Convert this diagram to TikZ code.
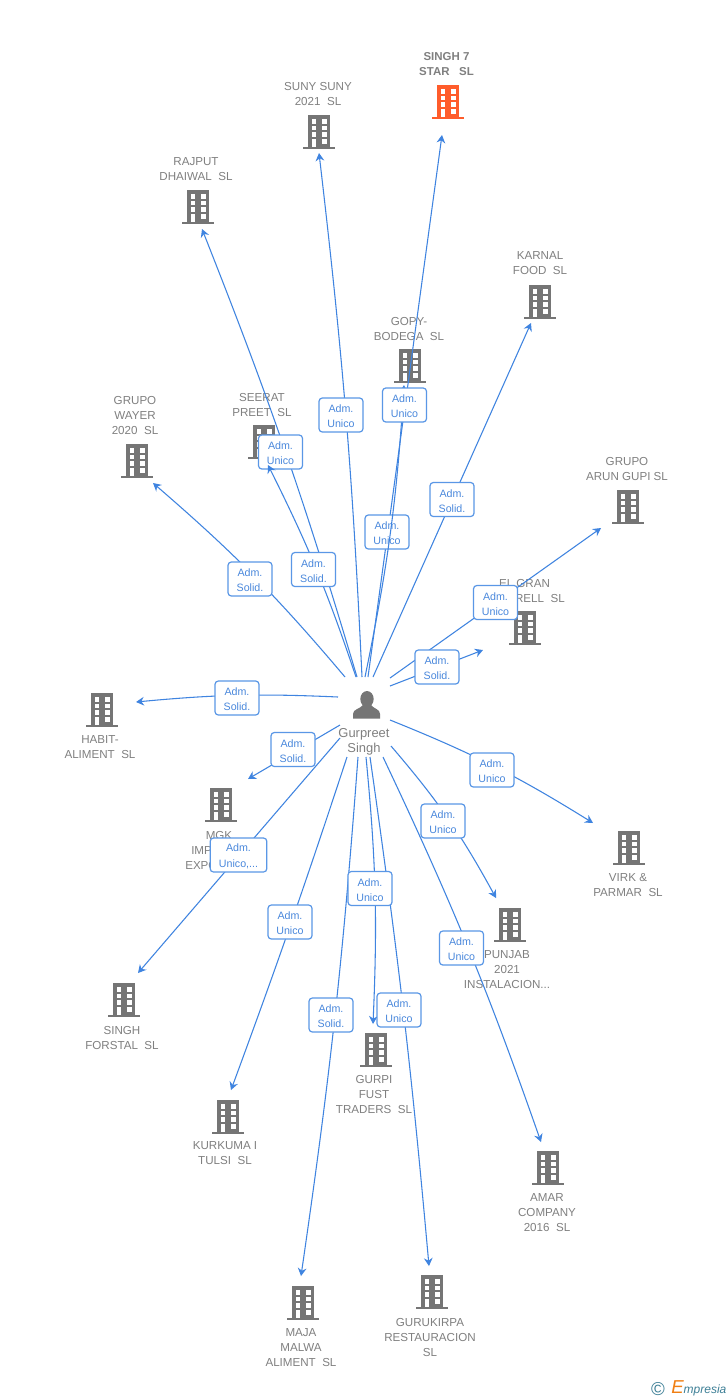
\documentclass[tikz,border=0pt]{standalone}
\usepackage{fontspec}
\setmainfont{Liberation Sans}
\usetikzlibrary{arrows.meta}
\definecolor{bgray}{HTML}{757575}
\definecolor{lgray}{HTML}{808080}
\definecolor{lnk}{HTML}{3F84E0}
\definecolor{bord}{HTML}{5A97E6}
\definecolor{btxt}{HTML}{4A88DC}
\definecolor{hot}{HTML}{FF5C2B}
\definecolor{teal}{HTML}{3D7F96}
\definecolor{ora}{HTML}{F07F13}
\newcommand{\bld}[4]{%
 \begin{scope}[shift={(#2,#3)}]
  \coordinate (#1) at (0,17);
  \fill[#4] (-11,0) rectangle (11,32);
  \fill[#4] (-16,32) rectangle (16,34);
  \foreach \wy in {4,10.7,17.4,24}{
   \fill[white] (-7.5,\wy) rectangle (-3,\wy+4.5);
   \fill[white] (2.5,\wy) rectangle (7.5,\wy+4.5);}
  \fill[white] (-7.5,24) rectangle (-3,32);
 \end{scope}}
\newcommand{\adm}[1]{\rule{0pt}{8pt}Adm.\\#1}
\tikzset{
 lbl/.style={text=lgray,font=\fontsize{8.7pt}{11.25pt}\selectfont,align=center,inner sep=0pt,yshift=-0.75pt},
 conn/.style={draw=lnk,line width=0.8pt,-{Stealth[length=6pt,width=6.5pt,inset=2pt]}},
 badge/.style={draw=bord,fill=white,line width=0.9pt,rounded corners=2.5pt,text=btxt,
  font=\fontsize{8pt}{11.5pt}\selectfont,align=center,inner sep=0pt,minimum width=33pt,minimum height=25.5pt}
}
\begin{document}
\begin{tikzpicture}[x=0.75pt,y=-0.75pt]
\useasboundingbox (0,0) rectangle (728,1400);
\fill[white] (0,0) rectangle (728,1400);
% buildings
\bld{b1}{448}{85}{hot}
\bld{b2}{319}{115}{bgray}
\bld{b3}{198}{190}{bgray}
\bld{b4}{540}{285}{bgray}
\bld{b5}{410}{349}{bgray}
\bld{b6}{264}{425}{bgray}
\bld{b7}{137}{444}{bgray}
\bld{b8}{628}{490}{bgray}
\bld{b9}{525}{611}{bgray}
\bld{b10}{102}{693}{bgray}
\bld{b11}{221}{788}{bgray}
\bld{b12}{629}{831}{bgray}
\bld{b13}{510}{908}{bgray}
\bld{b14}{124}{983}{bgray}
\bld{b15}{376}{1033}{bgray}
\bld{b16}{228}{1100}{bgray}
\bld{b17}{548}{1151}{bgray}
\bld{b18}{303}{1286}{bgray}
\bld{b19}{432}{1275}{bgray}
% labels
\node[lbl,font=\fontsize{8.6pt}{11.25pt}\bfseries\selectfont] (t1) at (446.5,63.5) {SINGH 7\\STAR\ \ \ SL};
\node[lbl] (t2) at (318,93.5) {SUNY SUNY\\2021\ \ SL};
\node[lbl] (t3) at (196,168.5) {RAJPUT\\DHAIWAL\ \ SL};
\node[lbl] (t4) at (540,262.5) {KARNAL\\FOOD\ \ SL};
\node[lbl] (t5) at (409,327.5) {GOPY-\\BODEGA\ \ SL};
\node[lbl] (t6) at (262,403.5) {SEERAT\\PREET\ \ SL};
\node[lbl] (t7) at (135,414) {GRUPO\\WAYER\\2020\ \ SL};
\node[lbl] (t8) at (627,467.5) {GRUPO\\ARUN GUPI SL};
\node[lbl] (t9) at (524.5,582) {EL GRAN};
\node[lbl,anchor=east] (t9b) at (565,597) {RELL\ \ SL};
\node[lbl] (t10) at (100,746.5) {HABIT-\\ALIMENT\ \ SL};
\node[lbl] (t11) at (219,834) {MGK};
\node[lbl,anchor=west] (t11b) at (191,849) {IMP};
\node[lbl,anchor=west] (t11c) at (185,864) {EXPO};
\node[lbl] (t12) at (628,884.5) {VIRK \&\\PARMAR\ \ SL};
\node[lbl] (t13) at (507,969) {PUNJAB\\2021\\INSTALACION...};
\node[lbl] (t14) at (122,1036.5) {SINGH\\FORSTAL\ \ SL};
\node[lbl] (t15) at (374,1093) {GURPI\\FUST\\TRADERS\ \ SL};
\node[lbl] (t16) at (225,1152.5) {KURKUMA I\\TULSI\ \ SL};
\node[lbl] (t17) at (547,1212) {AMAR\\COMPANY\\2016\ \ SL};
\node[lbl] (t18) at (301,1347) {MAJA\\MALWA\\ALIMENT\ \ SL};
\node[lbl] (t19) at (430,1336) {GURUKIRPA\\RESTAURACION\\SL};
% person
\coordinate (p) at (367,706);
\fill[bgray] (367,699) ellipse (6.7 and 8);
\fill[bgray] (353,718.5) -- (353,714) .. controls (353,709) and (360,709) .. (363,705)
 -- (371,705) .. controls (374,709) and (380,709) .. (380,714) -- (380,718.5) -- cycle;
\node[lbl,font=\fontsize{9.7pt}{11.25pt}\selectfont] (pl) at (364,740.5) {Gurpreet\\Singh};
% connector ends
\foreach \n/\sx/\sy/\ex/\ey in {
 1/368/677/442/135, 2/362/677/319/153, 3/357/677/202/229, 4/356/677/268/465,
 5/365/677/404/385, 6/373/677/531/323, 7/345/677/153/483, 8/390/678/601/528,
 9/390/686/483/650, 10/338/697/136/702, 11/340/725/248/779, 12/340/738/138/973,
 13/347/757/231/1090, 14/358/757/301/1276, 15/366/757/373/1024, 16/370/757/429/1266,
 17/383/757/541/1142, 18/391/746/496/898, 19/390/720/593/823}{
 \coordinate (s\n) at (\sx,\sy);
 \coordinate (e\n) at (\ex,\ey);
}
% connectors hidden by the two early badges
\draw[conn] (s1) -- (e1);
\draw[conn] (s3) to[bend right=2.5] (e3);
\node[badge] (a1) at (387,532) {\adm{Unico}};
\node[badge] (a3) at (280.5,452) {\adm{Unico}};
% connectors
\draw[conn] (s2) to[bend right=2] (e2);
\draw[conn] (s4) to[bend right=4] (e4);
\draw[conn] (s5) to[bend right=4] (e5);
\draw[conn] (s6) -- (e6);
\draw[conn] (s7) to[bend right=4.5] (e7);
\draw[conn] (s8) -- (e8);
\draw[conn] (s9) -- (e9);
\draw[conn] (s10) to[bend right=4] (e10);
\draw[conn] (s11) -- (e11);
\draw[conn] (s12) -- (e12);
\draw[conn] (s13) to[bend left=1] (e13);
\draw[conn] (s14) to[bend left=2] (e14);
\draw[conn] (s15) to[bend left=4] (e15);
\draw[conn] (s16) to[bend left=1.5] (e16);
\draw[conn] (s17) to[bend left=3] (e17);
\draw[conn] (s18) to[bend left=6] (e18);
\draw[conn] (s19) to[bend left=5] (e19);
% badges
\node[badge] (a2) at (341,415) {\adm{Unico}};
\node[badge] (a4) at (313.5,569.5) {\adm{Solid.}};
\node[badge] (a5) at (404.5,405) {\adm{Unico}};
\node[badge] (a6) at (452,499.5) {\adm{Solid.}};
\node[badge] (a7) at (250,579) {\adm{Solid.}};
\node[badge] (a8) at (495.5,602.5) {\adm{Unico}};
\node[badge] (a9) at (437,667) {\adm{Solid.}};
\node[badge] (a10) at (237,698) {\adm{Solid.}};
\node[badge] (a11) at (293,749.5) {\adm{Solid.}};
\node[badge,minimum width=42.5pt] (a12) at (238.5,855) {\adm{Unico,...}};
\node[badge] (a13) at (290,922) {\adm{Unico}};
\node[badge] (a14) at (331,1015) {\adm{Solid.}};
\node[badge] (a15) at (370,888.5) {\adm{Unico}};
\node[badge] (a16) at (399,1010) {\adm{Unico}};
\node[badge] (a17) at (461.5,948) {\adm{Unico}};
\node[badge] (a18) at (443,821) {\adm{Unico}};
\node[badge] (a19) at (492,770) {\adm{Unico}};
% logo
\node[inner sep=0pt,text=teal,font=\fontsize{14pt}{14pt}\selectfont] (c) at (658,1389) {©};
\node[inner sep=0pt,anchor=west,text=teal,font=\fontsize{9pt}{12pt}\itshape\selectfont] (l) at (671,1388) {{\color{ora}\fontsize{14pt}{14pt}\selectfont E}mpresia};
\end{tikzpicture}
\end{document}
